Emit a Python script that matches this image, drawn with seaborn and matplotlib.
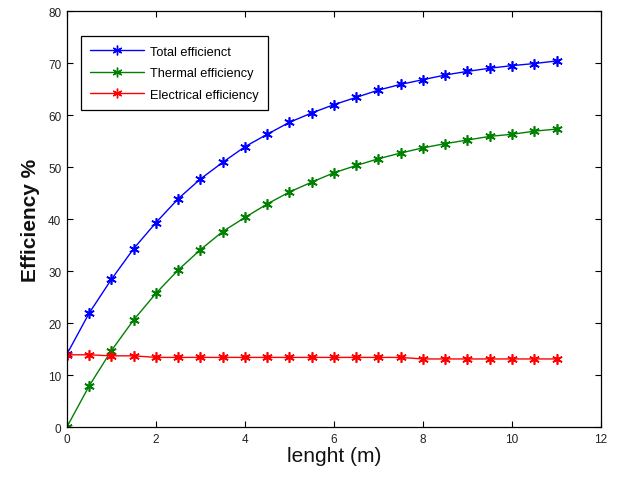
import matplotlib
matplotlib.use("Agg")
import matplotlib.pyplot as plt
import seaborn as sns
import pandas as pd

length = [0, 0.5, 1, 1.5, 2, 2.5, 3, 3.5, 4, 4.5, 5, 5.5, 6, 6.5, 7, 7.5, 8, 8.5, 9, 9.5, 10, 10.5, 11]
total_eff = [14.0, 21.9, 28.4, 34.3, 39.3, 43.9, 47.7, 50.9, 53.9, 56.3, 58.6, 60.4, 62.0, 63.4, 64.8, 65.9,
             66.8, 67.7, 68.4, 69.0, 69.5, 69.9, 70.4]
thermal_eff = [0.0, 7.9, 14.7, 20.6, 25.7, 30.2, 34.1, 37.6, 40.3, 42.9, 45.2, 47.1, 48.9, 50.3, 51.6, 52.7,
               53.7, 54.5, 55.2, 55.9, 56.3, 56.9, 57.3]
electrical_eff = [13.9, 13.9, 13.7, 13.7, 13.4, 13.4, 13.4, 13.4, 13.4, 13.4, 13.4, 13.4, 13.4, 13.4, 13.4, 13.4,
                  13.1, 13.1, 13.1, 13.1, 13.1, 13.1, 13.1]
series_names = ["Total efficienct", "Thermal efficiency", "Electrical efficiency"]
colors = ["#0000ff", "#008000", "#ff0000"]

df = pd.concat([
    pd.DataFrame({"x": length, "y": total_eff, "s": series_names[0]}),
    pd.DataFrame({"x": length, "y": thermal_eff, "s": series_names[1]}),
    pd.DataFrame({"x": length, "y": electrical_eff, "s": series_names[2]}),
])

sns.set_style("ticks")
plt.rcParams['font.family'] = ['Liberation Sans', 'DejaVu Sans']
plt.rcParams['text.color'] = 'black'
plt.rcParams['axes.labelcolor'] = 'black'

fig = plt.figure(figsize=(6.19, 4.81), dpi=100)
ax = fig.add_axes([0.108, 0.110, 0.863, 0.865])

sns.lineplot(data=df, x="x", y="y", hue="s", palette=colors, marker=(6, 2, 0), markersize=7.5,
             markeredgewidth=1.2, linewidth=1.0, ax=ax, sort=False)
for line in ax.lines:
    line.set_markeredgecolor(line.get_color())
    line.set_markerfacecolor(line.get_color())

ax.set_xlim(0, 12)
ax.set_ylim(0, 80)
ax.set_xticks(range(0, 13, 2))
ax.set_yticks(range(0, 81, 10))
ax.tick_params(direction="in", top=True, right=True, labelsize=8.5, length=4, width=0.8,
               colors="black", labelcolor="#222222", pad=4)
for sp in ax.spines.values():
    sp.set_visible(True)
    sp.set_color("black")
    sp.set_linewidth(0.9)

ax.set_xlabel("lenght (m)", fontsize=15, labelpad=1, color="#111111")
ax.set_ylabel("Efficiency %", fontsize=15, fontweight="bold", labelpad=6, color="#111111")

leg = ax.legend(loc="upper left", bbox_to_anchor=(0.026, 0.94), borderaxespad=0, fontsize=9.2,
                frameon=True, fancybox=False, edgecolor="black", framealpha=1, handlelength=4.2,
                borderpad=0.75, labelspacing=0.75, handletextpad=0.45)
leg.get_frame().set_linewidth(0.9)
for h in leg.get_lines():
    h.set_markeredgewidth(1.0)
    h.set_markersize(7)

fig.savefig("out.png", dpi=100)
